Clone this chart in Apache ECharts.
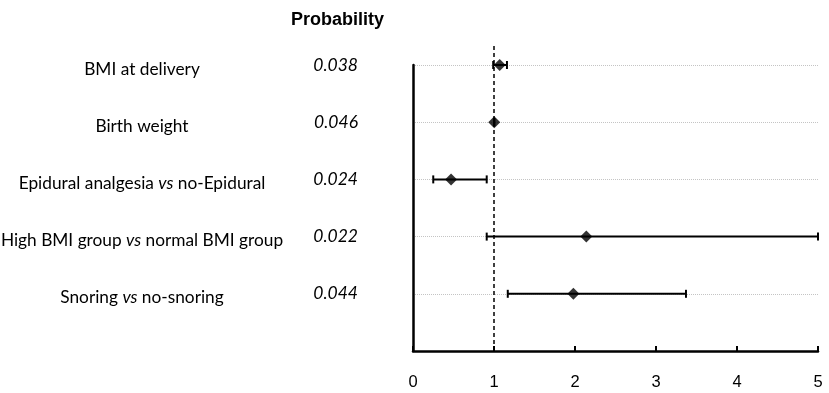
<!DOCTYPE html>
<html>
<head>
<meta charset="utf-8">
<script src="https://cdn.jsdelivr.net/npm/echarts@6/dist/echarts.min.js"></script>
<style>
  html, body { margin: 0; padding: 0; background: #fff; }
  #chart { width: 829px; height: 393px; }
</style>
</head>
<body>
<div id="chart"></div>
<script>
// rows, top to bottom
const categories = [
  "BMI at delivery",
  "Birth weight",
  "Epidural analgesia vs no-Epidural",
  "High BMI group vs normal BMI group",
  "Snoring vs no-snoring"
];
const pValues = ["0.038", "0.046", "0.024", "0.022", "0.044"];
const estimates = [1.07, 1.003, 0.47, 2.14, 1.98];
const lower = [0.99, 1.0, 0.25, 0.91, 1.17];
const upper = [1.16, 1.006, 0.91, 5.0, 3.37];
const xTicks = [0, 1, 2, 3, 4, 5];
const refValue = 1;

const n = categories.length;
const rowY = i => n - i;

const chart = echarts.init(document.getElementById("chart"));

const labelFont = "Lato, 'Open Sans', sans-serif";

function nameLabel(v) {
  const i = n - v;
  if (i < 0 || i >= n || v !== Math.round(v)) return "";
  return categories[i].replace(" vs ", " {i|vs} ");
}
function pLabel(v) {
  const i = n - v;
  if (i < 0 || i >= n || v !== Math.round(v)) return "";
  return pValues[i];
}

chart.setOption({
  animation: false,
  title: {
    text: "Probability",
    left: 286,
    top: 6,
    textStyle: {
      fontFamily: "'Liberation Sans', Arial, sans-serif",
      fontWeight: "bold",
      fontSize: 18,
      color: "#000"
    }
  },
  grid: { left: 413, right: 11, top: 65, bottom: 42, containLabel: false, outerBoundsMode: "none" },
  xAxis: {
    type: "value",
    min: 0,
    max: 5,
    interval: 1,
    axisLine: { show: true, lineStyle: { color: "#000", width: 2.5 } },
    axisTick: { show: true, inside: true, length: 5, lineStyle: { color: "#000", width: 2 } },
    axisLabel: {
      margin: 23,
      fontSize: 16.5,
      color: "#000",
      fontFamily: "'Liberation Sans', Arial, sans-serif",
      formatter: v => (xTicks.indexOf(v) >= 0 ? String(v) : "")
    },
    splitLine: { show: false }
  },
  yAxis: [
    {
      type: "value",
      min: 0,
      max: 5,
      interval: 1,
      axisLine: { show: true, lineStyle: { color: "#000", width: 2.5 } },
      axisTick: { show: false },
      splitLine: { show: true, lineStyle: { color: "#c4c4c4", type: "dotted", width: 1 } },
      axisLabel: {
        margin: 271,
        align: "center",
        fontSize: 17.3,
        color: "#000",
        fontFamily: labelFont,
        padding: [8, 0, 0, 0],
        formatter: nameLabel,
        rich: {
          i: { fontStyle: "italic", fontSize: 17.3, color: "#000", fontFamily: labelFont }
        }
      }
    },
    {
      type: "value",
      position: "left",
      min: 0,
      max: 5,
      interval: 1,
      axisLine: { show: false },
      axisTick: { show: false },
      splitLine: { show: false },
      axisLabel: {
        margin: 55,
        align: "right",
        fontSize: 17.5,
        fontStyle: "italic",
        color: "#000",
        fontFamily: labelFont,
        padding: [8, 0, 0, 0],
        formatter: pLabel
      }
    }
  ],
  series: [
    {
      type: "line",
      data: [[refValue, 0], [refValue, 5.35]],
      clip: false,
      symbol: "none",
      silent: true,
      lineStyle: { color: "#000", width: 1.5, type: [4, 3] },
      z: 1
    },
    {
      type: "custom",
      data: categories.map((c, i) => [lower[i], upper[i], rowY(i)]),
      renderItem: function (params, api) {
        const lo = api.coord([api.value(0), api.value(2)]);
        const hi = api.coord([api.value(1), api.value(2)]);
        const h = 4;
        const style = { stroke: "#000", lineWidth: 2 };
        return {
          type: "group",
          children: [
            { type: "line", shape: { x1: lo[0], y1: lo[1], x2: hi[0], y2: hi[1] }, style: style },
            { type: "line", shape: { x1: lo[0], y1: lo[1] - h, x2: lo[0], y2: lo[1] + h }, style: style },
            { type: "line", shape: { x1: hi[0], y1: hi[1] - h, x2: hi[0], y2: hi[1] + h }, style: style }
          ]
        };
      },
      clip: false,
      z: 2
    },
    {
      type: "scatter",
      data: categories.map((c, i) => [estimates[i], rowY(i)]),
      symbol: "diamond",
      symbolSize: [12, 12],
      itemStyle: { color: "#000" },
      z: 3
    }
  ]
});
</script>
</body>
</html>
